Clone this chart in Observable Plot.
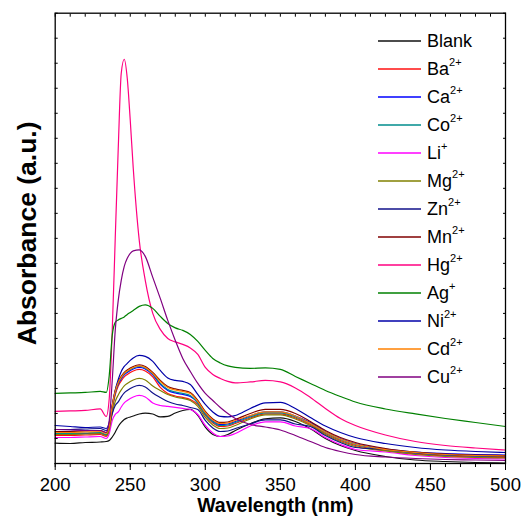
<!DOCTYPE html>
<html><head><meta charset="utf-8">
<script src="https://cdn.jsdelivr.net/npm/d3@7"></script>
<script src="https://cdn.jsdelivr.net/npm/@observablehq/plot@0.6"></script>
<style>
body{margin:0;background:#fff;}
#wrap{position:relative;width:524px;height:525px;}
</style></head><body><div id="wrap"></div>
<script>
const wavelength = [200,210,220,230,234,236,238,240,242,244,246,248,250,252,256,260,265,270,275,280,285,290,295,300,305,310,315,320,330,340,350,360,370,380,390,400,420,440,460,480,500];

const blank = [20.3,20,21,21.5,22,23,26.5,31.3,37,41,44,45.5,46.5,47.5,49.5,50.3,49.5,46.5,47,50.5,53,54,48,36.3,29,27,29,33,39.7,44.7,45.5,42,34.7,25,18,13,7,3.5,2,1,0.5];
const ba = [28,28,28.5,29,27,33.5,53.5,68.5,77.5,82.5,86.5,89,91,92.5,94,92.5,86.5,76,70,67.5,66,64,59,48,40.5,37,37.5,40,45.5,49.5,49.5,45.5,39,30,23,18,13,9.5,7.5,6.5,6];
const ca = [29.5,29.5,30,30.5,28.5,35.5,55.5,70.5,79.5,84.5,88.5,91,93,94.5,96,94.5,88.5,79,73,70.5,69,67,61,50,42.5,39,39.5,42,47.5,51.5,51.5,47.5,41,32,25,20,14.5,11.5,10,9,8.5];
const co = [30,30,30.5,31,29,36,56,71,80.5,85.5,89.5,92,94,95.5,97,95.5,89.5,80,74,71.5,70,68,60,49,41.5,38,38.5,41,46.5,50.5,50.5,46.5,40,31,24,19,13.5,10.5,8.5,7.5,7];
const li = [26,26,26.5,27,25,30,43,49,51.5,56.5,60.5,63,65,66.5,68,66.5,60.5,58,57,56,55,54,49,38,30.5,27,27.5,30,37.5,41.5,41.5,37.5,35,26,19,14,11.5,8,6,5,4.5];
const mg = [29,29,29.5,30,28,34,50,62,68.5,73.5,77.5,80,82,83.5,85,83.5,77.5,73,69,66.5,65,63,57,46,38.5,35,35.5,38,44.5,48.5,48.5,44.5,38,29,22,17,12.5,9,7,6,5.5];
const zn = [34,34,34.5,35,33,38,50,58,61.5,66.5,70.5,73,75,76.5,78,76.5,70.5,66,62,59.5,58,56,54,43,35.5,32,32.5,35,39.5,43.5,43.5,39.5,37,28,21,16,14,10.5,8.5,7.5,7];
const mn = [32,32,32.5,33,31,38,58,73,82,87,91,93.5,95.5,97,98.5,97,91,83,77,74.5,73,71,63,52,44.5,41,41.5,44,50,54,54,50,42,33,26,21,15,11.5,9.5,8.5,8];
const hg = [52,52.5,53,54.5,47,65,133,225,315,390,404,385,343,295,223,183,150,134,125,121.5,119,115.5,109,96,89,85,82,80.5,81.5,83,81.5,75.5,66,55,45,38,28.5,22,18,15.5,13.5];
const ag = [70,70.5,71,72,71,88,128,141,143.5,145,146.5,149,151,153,157,158.5,155,147,140,135.5,133,129,122,113,105,100.5,97.5,96,95,95.5,94,87,80,73,67,61.5,54.5,49.5,45,41,37];
const ni = [38,37,36,36.5,35,41,58,73,84,92,97,100,103,105.5,108,107,102,93,85.5,83,82,79,69,59,51.5,47,46.5,48,55,60.5,61,55,46,37.5,31,26,20,16,13.5,12,11];
const cd = [31,31,31.5,32,30,37,57,72,81,86,90,92.5,94.5,96,97.5,96,90,82,76,73.5,72,70,62,51,43.5,40,40.5,43,48,51.5,51.5,47.5,40,31.5,24.5,19.5,14,11,9,8,7.5];
const cu = [34,33.5,33,33,31,43,83,133,163,183,197,205,210,212.5,213.5,207,186,165,143,123,105,92,80,70,63,56,50,45,39,36.5,33.5,28,22,16,12,9,6.5,5,4,3.5,3];

const seriesNames = ["Blank","Ba","Ca","Co","Li","Mg","Zn","Mn","Hg","Ag","Ni","Cd","Cu"];
const seriesSup = ["","2+","2+","2+","+","2+","2+","2+","2+","+","2+","2+","2+"];
const seriesColors = ["#111111","#ff1010","#0000ff","#008c8c","#ff00ff","#808000","#10108a","#800000","#ff0080","#008000","#0000a8","#ff8000","#800080"];
const seriesValues = [blank,ba,ca,co,li,mg,zn,mn,hg,ag,ni,cd,cu];
const xMajor = [200,250,300,350,400,450,500];

const rows = seriesValues.flatMap((vals,i)=>vals.map((v,j)=>({wl:wavelength[j],abs:v,s:seriesNames[i]})));
const font = "'Liberation Sans', Arial, Helvetica, sans-serif";

const chart = Plot.plot({
  width:524, height:525,
  marginLeft:54.7, marginRight:19, marginTop:12.7, marginBottom:62,
  x:{domain:[200,500]},
  y:{domain:[0,450]},
  color:{domain:seriesNames, range:seriesColors},
  style:{fontFamily:font, background:"white", color:"black"},
  marks:[
    Plot.line(rows,{x:"wl",y:"abs",z:"s",stroke:"s",strokeWidth:1.2,curve:"monotone-x"}),
    Plot.axisX({ticks:xMajor, tickSize:7, tickPadding:7, fontSize:18.5, label:null}),
    Plot.axisX({ticks:d3.range(200,501,10), tickSize:4, fill:"none", label:null}),
    Plot.axisX({anchor:"top", ticks:d3.range(200,501,10), tickSize:-3, fill:"none", label:null}),
    Plot.axisY({ticks:d3.range(0,451,25), tickSize:-3, fill:"none", label:null}),
    Plot.axisY({anchor:"right", ticks:d3.range(0,451,25), tickSize:-3, fill:"none", label:null}),
    Plot.frame({stroke:"black", strokeWidth:1.3}),
    Plot.text(["Wavelength (nm)"],{frameAnchor:"bottom", dy:48, dx:-5, fontWeight:"bold", fontSize:19.5}),
    Plot.text(["Absorbance (a.u.)"],{frameAnchor:"left", textAnchor:"middle", dx:-28, dy:-5, rotate:-90, fontWeight:"bold", fontSize:26.5})
  ]
});
const wrap = document.getElementById("wrap");
wrap.appendChild(chart);

const leg = d3.select(wrap).append("svg")
  .attr("width",524).attr("height",525)
  .style("position","absolute").style("left","0").style("top","0");
seriesNames.forEach((n,i)=>{
  const y = 41 + 28*i;
  leg.append("line").attr("x1",378).attr("x2",421).attr("y1",y).attr("y2",y)
    .attr("stroke",seriesColors[i]).attr("stroke-width",1.3);
  const t = leg.append("text").attr("x",427).attr("y",y+6)
    .attr("font-size",18).attr("font-family",font).attr("fill","black");
  t.append("tspan").text(n);
  if (seriesSup[i]) t.append("tspan").attr("dy",-9).attr("font-size",11).text(seriesSup[i]);
});
</script></body></html>
